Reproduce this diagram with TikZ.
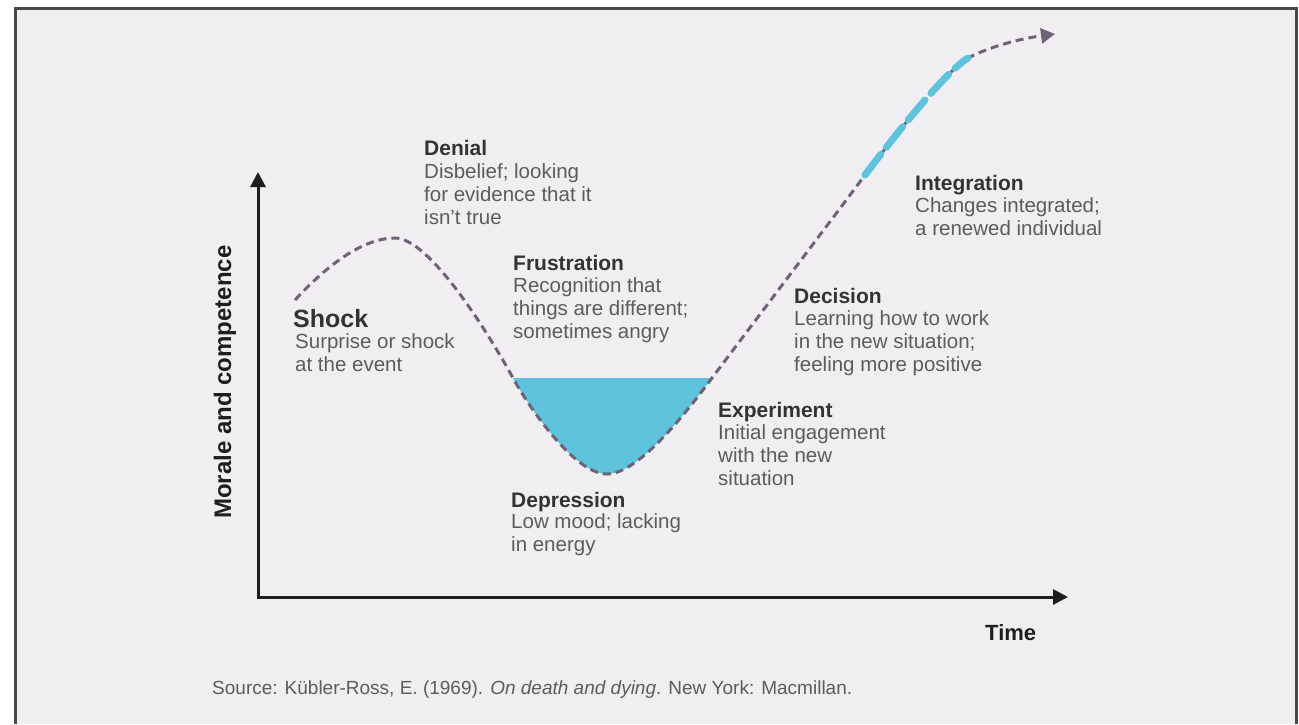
\documentclass[tikz,border=0pt]{standalone}
\usepackage{fontspec}
\setmainfont{Liberation Sans}
\usetikzlibrary{arrows.meta}
\definecolor{bgc}{HTML}{F0EEF1}
\definecolor{framec}{HTML}{4A4A4A}
\definecolor{curvec}{HTML}{6D6477}
\definecolor{cyanc}{HTML}{5EC3DD}
\definecolor{headc}{HTML}{333333}
\definecolor{textc}{HTML}{5C5C5C}
\definecolor{axisc}{HTML}{1E1E1E}
\tikzset{
  head/.style={anchor=base west, inner sep=0pt, text=headc, font=\fontsize{21}{23}\selectfont\bfseries},
  desc/.style={anchor=north west, inner sep=0pt, align=left, text=textc, font=\fontsize{20.5}{23}\selectfont},
  axisline/.style={draw=axisc, line width=3pt, -{Triangle[length=15pt,width=15pt]}},
  curveline/.style={draw=curvec, line width=3pt, dash pattern=on 8pt off 5pt},
  blueline/.style={draw=cyanc, line width=7pt, dash pattern=on 26pt off 9pt, line cap=round},
  framel/.style={draw=framec, line width=3pt}
}
\begin{document}
\begin{tikzpicture}[x=1pt,y=-1pt]
\useasboundingbox (0,0) rectangle (1299,724);
\fill[white] (0,0) rectangle (1299,724);
\fill[bgc] (15,8) rectangle (1296,724);
\draw[framel] (15,724) -- (15,8) -- (1296,8) -- (1296,724);

% axes
\coordinate (O) at (258,597);
\coordinate (ytop) at (258,172);
\coordinate (xend) at (1068,597);
\draw[axisline] (O) -- (ytop);
\draw[axisline] ([xshift=-1.5pt]O) -- (xend);

\node[rotate=90, inner sep=0pt, text=axisc, font=\fontsize{24}{26}\selectfont\bfseries] (ylab) at (225,382) {Morale and competence};
\node[anchor=base west, inner sep=0pt, text=axisc, font=\fontsize{22}{24}\selectfont\bfseries] (xlab) at (985,640) {Time};

% curve points
\coordinate (c0) at (295,300);
\coordinate (c1) at (395,238);
\coordinate (c2) at (513,378);
\coordinate (c3) at (607,474);
\coordinate (c4) at (712,378);
\coordinate (c5) at (865,175);
\coordinate (c6) at (968,58);
\coordinate (c7) at (1055,34);

% fill
\fill[cyanc] (c2) .. controls (530,409) and (575,474) .. (c3)
  .. controls (640,474) and (691,406) .. (c4) -- cycle;

% curve
\draw[curveline, -{Triangle[length=14pt,width=15pt]}] (c0) .. controls (330,262) and (365,238) .. (c1)
  .. controls (430,238) and (490,336) .. (c2)
  .. controls (530,409) and (575,474) .. (c3)
  .. controls (640,474) and (691,406) .. (c4)
  .. controls (733,350) and (845,202) .. (c5)
  .. controls (883,151) and (943,73) .. (c6)
  .. controls (993,45) and (1025,38) .. (c7);
\draw[blueline] (c5) .. controls (883,151) and (943,73) .. (c6);

% labels
\node[head] (denialh) at (424,155) {Denial};
\node[desc] (deniald) at (424,163.5) {Disbelief; looking\\for evidence that it\\isn't true};

\node[head, font=\fontsize{25}{28}\selectfont\bfseries] (shockh) at (293,327) {Shock};
\node[desc] (shockd) at (295,333.5) {Surprise or shock\\at the event};

\node[head] (frush) at (513,270) {Frustration};
\node[desc] (frusd) at (513,277.5) {Recognition that\\things are different;\\sometimes angry};

\node[head] (deph) at (511,507) {Depression};
\node[desc] (depd) at (511,513.5) {Low mood; lacking\\in energy};

\node[head] (exph) at (718,417) {Experiment};
\node[desc] (expd) at (718,424.5) {Initial engagement\\with the new\\situation};

\node[head] (dech) at (794,303) {Decision};
\node[desc] (decd) at (794,310.5) {Learning how to work\\in the new situation;\\feeling more positive};

\node[head] (inth) at (915,190) {Integration};
\node[desc] (intd) at (915,197.5) {Changes integrated;\\a renewed individual};

\node[anchor=base west, inner sep=0pt, text=textc, font=\fontsize{19}{22}\selectfont] (src) at (212,694)
  {Source: Kübler-Ross, E. (1969). \textit{On death and dying}. New York: Macmillan.};
\end{tikzpicture}
\end{document}
